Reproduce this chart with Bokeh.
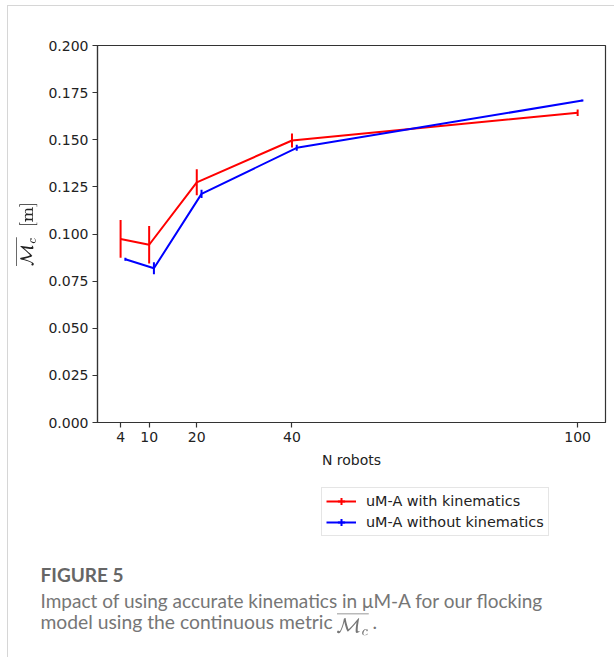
import numpy as np
from bokeh.plotting import figure
from bokeh.models import (ColumnDataSource, Range1d, FixedTicker, PrintfTickFormatter,
                          Legend, LegendItem, Label)
from bokeh.layouts import column
from bokeh.embed import file_html
from bokeh.resources import INLINE

# Mean continuous metric per swarm size, with and without accurate kinematics
n_with = [4, 10, 20, 40, 100]
mc_with = [0.0974, 0.0943, 0.1274, 0.1496, 0.1643]
err_with = [0.0100, 0.0100, 0.0069, 0.0037, 0.0017]

n_without = [5, 11, 21, 41, 101]
mc_without = [0.0866, 0.0818, 0.1213, 0.1457, 0.1708]
err_without = [0.0008, 0.0032, 0.0022, 0.0016, 0.0005]

x_ticks = [4, 10, 20, 40, 100]
y_ticks = [0.000, 0.025, 0.050, 0.075, 0.100, 0.125, 0.150, 0.175, 0.200]

series = [
    ("uM-A with kinematics", n_with, mc_with, err_with, "#ff0000"),
    ("uM-A without kinematics", n_without, mc_without, err_without, "#0000ff"),
]

TICK_FONT = "DejaVu Sans"
AX_COLOR = "#333333"
TXT_COLOR = "#222222"

# page layout: left border line at x=7, plot frame spans x 97..605, y 45..422
p = figure(width=606, height=470, output_backend="svg", toolbar_location=None,
           x_range=Range1d(-0.85, 105.85), y_range=Range1d(0.0, 0.2),
           min_border_left=89, min_border_right=9, min_border_top=39, min_border_bottom=54)
p.frame_align = False
p.grid.visible = False
p.outline_line_color = AX_COLOR
p.outline_line_width = 1.2
p.background_fill_color = "white"
p.border_fill_color = "white"

for name, xs, ys, es, color in series:
    ys_a = np.array(ys)
    es_a = np.array(es)
    src = ColumnDataSource(dict(x=xs, y=ys, lo=ys_a - es_a, hi=ys_a + es_a))
    p.line("x", "y", source=src, line_color=color, line_width=2)
    p.segment(x0="x", y0="lo", x1="x", y1="hi", source=src, line_color=color, line_width=2)

p.xaxis.ticker = FixedTicker(ticks=x_ticks)
p.yaxis.ticker = FixedTicker(ticks=y_ticks)
p.yaxis.formatter = PrintfTickFormatter(format="%.3f")

for ax in (p.xaxis[0], p.yaxis[0]):
    ax.axis_line_color = AX_COLOR
    ax.axis_line_width = 1.2
    ax.major_tick_line_color = AX_COLOR
    ax.major_tick_line_width = 1.2
    ax.major_tick_out = 5
    ax.major_tick_in = 0
    ax.minor_tick_out = 0
    ax.minor_tick_in = 0
    ax.major_label_text_font = TICK_FONT
    ax.major_label_text_font_size = "14px"
    ax.major_label_text_color = TXT_COLOR
    ax.major_label_standoff = 4
    ax.axis_label_text_font = TICK_FONT
    ax.axis_label_text_font_size = "14px"
    ax.axis_label_text_font_style = "normal"
    ax.axis_label_text_color = TXT_COLOR

p.xaxis.axis_label = "N robots"
p.xaxis.axis_label_standoff = 7
p.yaxis.axis_label = r"$$\overline{\mathcal{M}_c}\;\;\text{[m]}$$"
p.yaxis.axis_label_text_font_size = "13.5px"
p.yaxis.axis_label_standoff = 8

# Caption panel (data coordinates equal page pixels) holding the legend
cap = figure(width=606, height=181, output_backend="svg", toolbar_location=None,
             x_range=Range1d(8, 614), y_range=Range1d(657, 476),
             min_border=0, min_border_left=0, min_border_right=0,
             min_border_top=0, min_border_bottom=0)
cap.frame_align = False
cap.axis.visible = False
cap.grid.visible = False
cap.outline_line_color = None
cap.border_fill_color = "white"

items = []
for name, xs, ys, es, color in series:
    # legend-only renderers: a line crossed by a vertical error bar
    swatch = ColumnDataSource(dict(x=[np.nan], y=[np.nan]))
    r_line = cap.line("x", "y", source=swatch, line_color=color, line_width=2)
    r_bar = cap.scatter("x", "y", source=swatch, marker="cross", size=15,
                        line_color=color, line_width=2)
    items.append(LegendItem(label=name, renderers=[r_line, r_bar]))

legend = Legend(items=items, location=(313, 121), orientation="vertical",
                label_text_font=TICK_FONT, label_text_font_size="14.4px",
                label_text_color=TXT_COLOR, glyph_width=30, glyph_height=18,
                label_height=18, label_standoff=10, spacing=3, padding=4, margin=0,
                border_line_color="#cccccc", border_line_width=1,
                background_fill_color="white", background_fill_alpha=1)
cap.add_layout(legend, "center")

CAP_FONT = "Lato"
CAP_COLOR = "#767676"
cap.add_layout(Label(x=40, y=574, text="FIGURE 5", text_font=CAP_FONT,
                     text_font_size="19px", text_font_style="bold",
                     text_color="#666666", text_baseline="alphabetic"))
cap.add_layout(Label(x=40, y=599.5,
                     text="Impact of using accurate kinematics in \u03bcM-A for our flocking",
                     text_font=CAP_FONT, text_font_size="19px",
                     text_color=CAP_COLOR, text_baseline="alphabetic"))
cap.add_layout(Label(x=40, y=621, text="model using the continuous metric",
                     text_font=CAP_FONT, text_font_size="19.3px",
                     text_color=CAP_COLOR, text_baseline="alphabetic"))
cap.add_layout(Label(x=336, y=623, text=r"$$\overline{\mathcal{M}_c}$$",
                     text_font_size="16px", text_color=CAP_COLOR,
                     text_baseline="alphabetic"))
cap.add_layout(Label(x=372, y=621, text=".", text_font=CAP_FONT,
                     text_font_size="19.3px", text_color=CAP_COLOR,
                     text_baseline="alphabetic"))

layout = column(p, cap, margin=(5, 0, 0, 7), spacing=0,
                styles={"border-top": "1px solid #d6d6d6",
                        "border-left": "1px solid #d6d6d6"})

open("out.html", "w").write(file_html(layout, INLINE))
